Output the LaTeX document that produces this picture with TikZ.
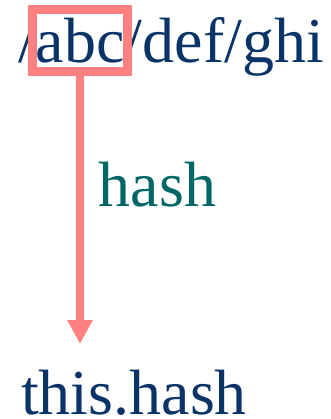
\documentclass[tikz,border=0pt]{standalone}
\usepackage{fontspec}
\setmainfont{Liberation Serif}
\usepackage{tikz}
\usetikzlibrary{arrows.meta}
\definecolor{ink}{RGB}{10, 52, 104}
\definecolor{teal}{RGB}{0, 102, 102}
\definecolor{accent}{RGB}{255, 128, 128}

\begin{document}
\begin{tikzpicture}[x=1pt,y=1pt,
  txt/.style={inner sep=0pt,anchor=base west,font=\fontsize{64}{70}\selectfont},
  box/.style={draw=accent,line width=9pt,minimum width=95pt,minimum height=61.6pt,inner sep=0pt}]
\useasboundingbox (0,0) rectangle (330,-419);
\node[txt,ink] (path) at (18,-63) {/abc/def/ghi};
\node[box] (abc) at (80,-40.5) {};
\coordinate (tip) at (80,-344);
\draw[accent,line width=8pt,-{Triangle[width=24pt,length=24pt]}] (abc.south) -- (tip);
\node[txt,teal] (hash) at (98.5,-207) {hash};
\node[txt,ink] (res) at (21,-414.5) {this.hash};
\end{tikzpicture}
\end{document}
